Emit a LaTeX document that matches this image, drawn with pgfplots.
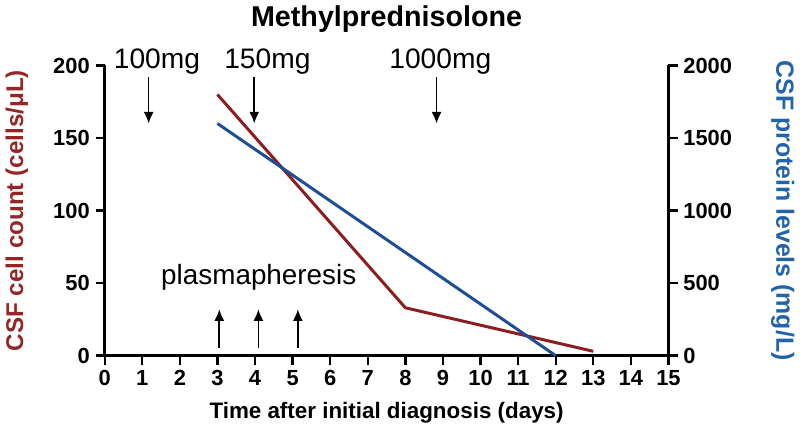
\documentclass[border=0pt]{standalone}
\usepackage{pgfplots}
\pgfplotsset{compat=1.18}
\usepackage{fontspec}
\setmainfont{Liberation Sans}
\usetikzlibrary{arrows.meta}
\definecolor{cred}{HTML}{8B1E1E}
\definecolor{cblue}{HTML}{1F4E98}
\definecolor{lred}{HTML}{962626}
\definecolor{lblue}{HTML}{2263AA}
\begin{document}
\begin{tikzpicture}
\pgfplotsset{
  common/.style={
    scale only axis, width=340pt, height=175pt,
    xmin=0, xmax=15,
    axis line style={line width=1.7pt},
    tick style={line width=1.4pt, black},
    major tick length=5.5pt, tick align=outside,
    ticklabel style={font=\fontsize{13.2}{14}\selectfont\bfseries},
    /pgf/number format/assume math mode=true,
    /pgf/number format/1000 sep={},
    clip=false,
  }
}
\begin{axis}[common,
  ymin=0, ymax=200,
  axis x line*=bottom, axis y line*=left,
  xtick={0,...,15}, ytick={0,50,...,200},
  xlabel={Time after initial diagnosis (days)},
  xlabel style={font=\fontsize{13.5}{14}\selectfont\bfseries, yshift=-3pt},
  ylabel={CSF cell count (cells/μL)},
  ylabel style={font=\fontsize{14.6}{15}\selectfont\bfseries, color=lred,
    at={(axis description cs:0,0.5)}, anchor=center, yshift=53pt},
]
\addplot[color=cred, line width=1.8pt] coordinates {(3,180) (8,33) (13,3)};
\node[font=\fontsize{17.3}{18}\selectfont\bfseries, anchor=base] at (axis cs:7.5,227) {Methylprednisolone};
\node[font=\fontsize{17}{17}\selectfont, anchor=base] at (axis cs:1.39,198) {100mg};
\node[font=\fontsize{17}{17}\selectfont, anchor=base] at (axis cs:4.33,198) {150mg};
\node[font=\fontsize{17}{17}\selectfont, anchor=base] at (axis cs:8.93,198) {1000mg};
\draw[line width=1pt, -{Latex[length=7pt,width=6pt]}] (axis cs:1.17,192) -- (axis cs:1.17,160);
\draw[line width=1pt, -{Latex[length=7pt,width=6pt]}] (axis cs:3.98,192) -- (axis cs:3.98,160);
\draw[line width=1pt, -{Latex[length=7pt,width=6pt]}] (axis cs:8.83,192) -- (axis cs:8.83,160);
\node[font=\fontsize{16.8}{17}\selectfont] at (axis cs:4.1,54) {plasmapheresis};
\draw[line width=1pt, -{Latex[length=7pt,width=6pt]}] (axis cs:3.05,5.5) -- (axis cs:3.05,32);
\draw[line width=1pt, -{Latex[length=7pt,width=6pt]}] (axis cs:4.09,5.5) -- (axis cs:4.09,32);
\draw[line width=1pt, -{Latex[length=7pt,width=6pt]}] (axis cs:5.14,5.5) -- (axis cs:5.14,32);
\end{axis}
\begin{axis}[common,
  ymin=0, ymax=2000,
  axis y line*=right, axis x line=none,
  ytick={0,500,...,2000},
  ylabel={CSF protein levels (mg/L)},
  ylabel style={font=\fontsize{15}{15}\selectfont\bfseries, color=lblue, rotate=180,
    at={(axis description cs:1,0.5)}, anchor=center, yshift=69pt},
]
\addplot[color=cblue, line width=1.8pt] coordinates {(3,1600) (12,0)};
\end{axis}
\end{tikzpicture}
\end{document}
